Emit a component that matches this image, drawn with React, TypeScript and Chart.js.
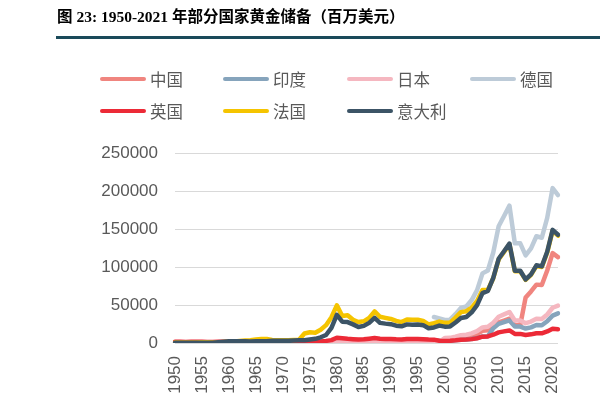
import React, { useEffect, useRef } from "react";
import { Chart, registerables } from "chart.js";

Chart.register(...registerables);

const years = [
  "1950", "1951", "1952", "1953", "1954", "1955", "1956", "1957", "1958", "1959",
  "1960", "1961", "1962", "1963", "1964", "1965", "1966", "1967", "1968", "1969",
  "1970", "1971", "1972", "1973", "1974", "1975", "1976", "1977", "1978", "1979",
  "1980", "1981", "1982", "1983", "1984", "1985", "1986", "1987", "1988", "1989",
  "1990", "1991", "1992", "1993", "1994", "1995", "1996", "1997", "1998", "1999",
  "2000", "2001", "2002", "2003", "2004", "2005", "2006", "2007", "2008", "2009",
  "2010", "2011", "2012", "2013", "2014", "2015", "2016", "2017", "2018", "2019",
  "2020", "2021",
];

const china = [
  null, null, null, null, null, null, null, null, null, null,
  null, null, null, null, null, null, null, null, null, null,
  null, null, null, null, null, null, null, 450, 450, 470,
  480, 480, 480, 500, 520, 540, 560, 580, 600, 600,
  600, 600, 600, 600, 600, 600, 600, 600, 600, 600,
  600, 4400, 6600, 8000, 8400, 9900, 12200, 16100, 16800, 21000,
  27100, 29500, 32000, 23200, 23300, 60000, 67900, 76800, 76200, 95400,
  118200, 113000,
];

const india = [
  247, 247, 247, 247, 247, 247, 247, 247, 247, 247,
  247, 247, 247, 247, 247, 281, 243, 243, 243, 243,
  243, 264, 264, 293, 293, 300, 300, 300, 300, 300,
  300, 300, 300, 300, 300, 300, 300, 300, 300, 300,
  3200, 3500, 3400, 4000, 3900, 4000, 3800, 3000, 3000, 3000,
  2800, 2900, 3500, 4300, 4500, 5300, 6500, 8600, 9000, 19500,
  25200, 27400, 29700, 21600, 21600, 19000, 20500, 23700, 23400, 28700,
  36000, 39000,
];

const japan = [
  10, 10, 10, 20, 20, 23, 23, 23, 54, 244,
  247, 287, 289, 289, 304, 328, 329, 338, 356, 413,
  532, 679, 801, 891, 891, 863, 925, 1000, 1100, 1200,
  1200, 1100, 1100, 1100, 1000, 1100, 1200, 1200, 1100, 1100,
  1200, 1200, 1200, 1200, 1200, 1200, 1200, 1100, 1200, 1200,
  6700, 6800, 8400, 10300, 10800, 12600, 15600, 20500, 21400, 26700,
  34600, 37700, 40800, 29700, 29700, 26100, 28200, 31900, 31500, 37500,
  46400, 49100,
];

const germany = [
  null, null, null, null, null, null, null, null, null, null,
  null, null, null, null, null, null, null, null, null, null,
  null, null, null, null, null, null, null, null, null, null,
  null, null, null, null, null, null, null, null, null, null,
  null, null, null, null, null, null, null, null, 34200, 32400,
  30400, 30700, 38000, 46100, 48100, 56500, 69500, 91600, 95400, 119100,
  153700, 167200, 180700, 131100, 131200, 115200, 124400, 140500, 138500, 164600,
  203800, 194700,
];

const uk = [
  1800, 1600, 1300, 1600, 1700, 1500, 1400, 1300, 1700, 1600,
  1800, 1600, 1700, 1700, 1500, 1500, 1400, 1200, 1300, 1300,
  1200, 900, 900, 1000, 1000, 1300, 1500, 2000, 2800, 3800,
  7000, 6200, 5500, 5000, 4500, 4800, 5600, 6500, 5600, 5400,
  5200, 4800, 4600, 5300, 5200, 5300, 5000, 4600, 4400, 3000,
  2700, 2900, 3500, 4300, 4600, 5100, 6300, 8300, 8700, 10900,
  14000, 15300, 16500, 12000, 12000, 10600, 11400, 12900, 12700, 15200,
  18800, 18000,
];

const france = [
  523, 548, 573, 576, 576, 942, 924, 581, 750, 1290,
  1641, 2121, 2587, 3175, 3729, 4706, 5238, 5234, 3877, 3547,
  3532, 3523, 3826, 4261, 12500, 14100, 13600, 17500, 23500, 34000,
  49500, 35500, 36500, 30500, 27500, 28500, 33000, 41500, 34500, 33000,
  31600, 29000, 27500, 31000, 30500, 30500, 29000, 24500, 26000, 28200,
  26500, 26900, 33300, 40600, 41800, 46600, 55300, 69800, 69700, 85200,
  110000, 119900, 129800, 94300, 94400, 83000, 89600, 101400, 100000, 119100,
  147600, 141200,
];

const italy = [
  256, 333, 346, 346, 346, 352, 338, 452, 1086, 1749,
  2203, 2225, 2243, 2343, 2107, 2404, 2414, 2400, 2923, 2956,
  2887, 2884, 3130, 3483, 3500, 4500, 5500, 7500, 10500, 20000,
  37000, 28000, 27500, 24500, 21000, 22500, 26500, 33000, 26500, 25500,
  24800, 22800, 22000, 24500, 24000, 24200, 23500, 19500, 20500, 22900,
  21500, 21800, 27000, 32900, 34300, 40400, 49800, 65700, 68600, 85700,
  110800, 120700, 130700, 95000, 95100, 83600, 90300, 102200, 100800, 120100,
  148800, 142400,
];

const seriesNames = ["中国", "印度", "日本", "德国", "英国", "法国", "意大利"];
const seriesColors = ["#F0857F", "#86A4BC", "#F5B7C0", "#BDCBD8", "#EC2A37", "#F5C400", "#3C5466"];
const seriesData = [china, india, japan, germany, uk, france, italy];
const yTicks = [0, 50000, 100000, 150000, 200000, 250000];

const tickFont = '"Liberation Sans", Arial, sans-serif';
const cjkFont = '"Noto Sans CJK SC", "Noto Sans", sans-serif';

export default function App() {
  const canvasRef = useRef<HTMLCanvasElement | null>(null);

  useEffect(() => {
    const canvas = canvasRef.current;
    if (!canvas) return;
    const chart = new Chart(canvas, {
      type: "line",
      data: {
        labels: years,
        datasets: seriesData.map((d, i) => ({
          label: seriesNames[i],
          data: d,
          borderColor: seriesColors[i],
          backgroundColor: seriesColors[i],
          borderWidth: 4.5,
          pointRadius: 0,
          tension: 0,
          fill: false,
          spanGaps: false,
          order: seriesData.length - i,
        })),
      },
      options: {
        animation: false,
        responsive: false,
        devicePixelRatio: 1,
        events: [],
        layout: { padding: { left: 0, top: 153, right: 42, bottom: 0 } },
        elements: {
          line: { borderJoinStyle: "round", borderCapStyle: "round" },
          point: { radius: 0 },
        },
        plugins: {
          legend: { display: false },
          tooltip: { enabled: false },
          title: { display: false },
        },
        scales: {
          x: {
            type: "category",
            grid: { display: false, drawTicks: false },
            border: { display: false },
            ticks: {
              autoSkip: false,
              minRotation: 90,
              maxRotation: 90,
              padding: 13,
              color: "#595959",
              font: { family: tickFont, size: 17 },
              callback: function (this: any, value: any, index: number) {
                return index % 5 === 0 ? years[index] : "";
              },
            },
            afterFit: (scale: any) => {
              scale.height = 76;
            },
          },
          y: {
            min: 0,
            max: 250000,
            afterBuildTicks: (scale: any) => {
              scale.ticks = yTicks.map((v) => ({ value: v }));
            },
            grid: { color: "#D9D9D9", lineWidth: 1, drawTicks: false },
            border: { display: false },
            ticks: {
              padding: 17,
              color: "#595959",
              font: { family: tickFont, size: 17 },
              callback: (v: any) => String(v),
            },
            afterFit: (scale: any) => {
              scale.width = 175;
            },
          },
        },
      },
    } as any);
    return () => chart.destroy();
  }, []);

  const legendCols = [100, 223, 347, 470];
  const legendRows = [79, 111];

  return (
    <div style={{ position: "absolute", left: 0, top: 0, width: 600, height: 419, background: "#fff", overflow: "hidden" }}>
      <canvas ref={canvasRef} width={600} height={419} style={{ position: "absolute", left: 0, top: 0, width: 600, height: 419 }} />
      <div
        style={{
          position: "absolute",
          left: 57,
          top: 7,
          fontFamily: '"Liberation Serif", "Noto Sans CJK SC", serif',
          fontWeight: 700,
          fontSize: 15.5,
          lineHeight: "20px",
          color: "#000",
          whiteSpace: "nowrap",
        }}
      >
        图 23: 1950-2021 年部分国家黄金储备（百万美元）
      </div>
      <div style={{ position: "absolute", left: 56, top: 36, width: 544, height: 3, background: "#1A4A5A" }} />
      {seriesNames.map((name, i) => {
        const col = i < 4 ? i : i - 4;
        const row = i < 4 ? 0 : 1;
        const x = legendCols[col];
        const y = legendRows[row];
        return (
          <React.Fragment key={name}>
            <div
              style={{
                position: "absolute",
                left: x,
                top: y - 2,
                width: 46,
                height: 4,
                borderRadius: 2,
                background: seriesColors[i],
              }}
            />
            <div
              style={{
                position: "absolute",
                left: x + 50,
                top: y - 12,
                height: 24,
                lineHeight: "24px",
                fontFamily: cjkFont,
                fontSize: 16.5,
                color: "#595959",
                whiteSpace: "nowrap",
              }}
            >
              {name}
            </div>
          </React.Fragment>
        );
      })}
    </div>
  );
}
